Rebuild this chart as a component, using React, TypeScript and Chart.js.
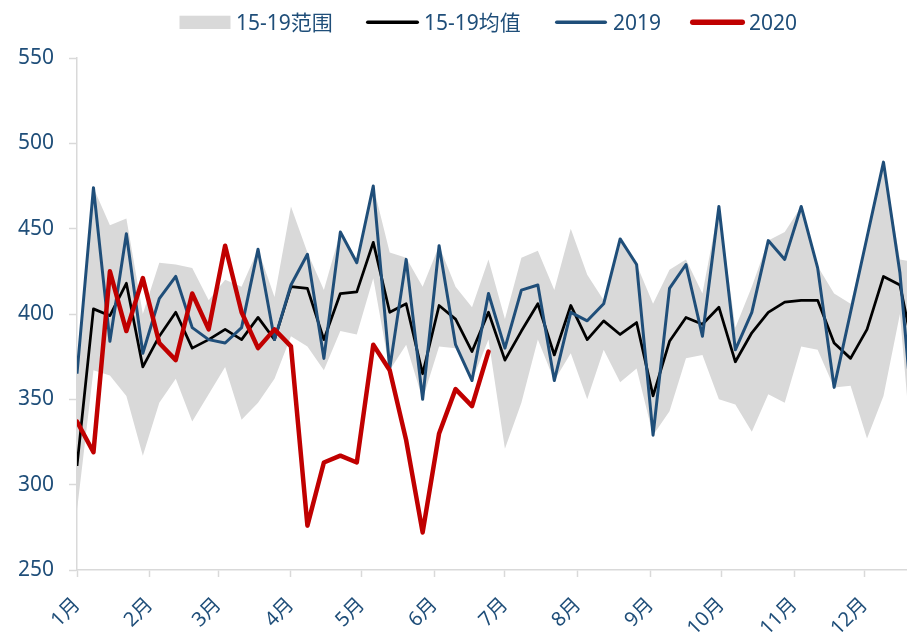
import React, { useEffect, useRef } from 'react';
import { Chart, registerables } from 'chart.js';

Chart.register(...registerables);

// ---- data (weekly, 2020 date axis in days from 1 Jan) ----
const WEEK_STEP = 7;
const monthStartDays = [0, 31, 60, 91, 121, 152, 182, 213, 244, 274, 305, 335];
const monthLabels = ['1月', '2月', '3月', '4月', '5月', '6月', '7月', '8月', '9月', '10月', '11月', '12月'];
const yTickMin = 250;
const yTickMax = 550;
const yTickStep = 50;

const range15_19High = [366, 474, 452, 456, 400, 430, 429, 427, 408, 420, 416, 438, 410, 463, 436, 414, 448, 430, 475, 436, 433, 416, 440, 416, 404, 432, 397, 433, 437, 414, 450, 423, 408, 444, 429, 406, 426, 432, 412, 463, 392, 416, 443, 448, 463, 428, 412, 406, 445, 489, 432, 430];
const range15_19Low = [285, 367, 364, 352, 317, 348, 362, 337, 353, 369, 338, 348, 362, 387, 381, 367, 390, 388, 421, 367, 382, 350, 381, 380, 361, 385, 321, 348, 385, 361, 377, 350, 379, 360, 368, 329, 343, 374, 376, 350, 347, 331, 353, 348, 381, 379, 357, 358, 327, 352, 400, 288];
const mean15_19 = [311, 403, 399, 418, 369, 387, 401, 380, 385, 391, 385, 398, 385, 416, 415, 385, 412, 413, 442, 401, 406, 365, 405, 397, 378, 401, 373, 390, 406, 376, 405, 385, 396, 388, 395, 352, 384, 398, 394, 404, 372, 389, 401, 407, 408, 408, 383, 374, 391, 422, 417, 370];
const y2019 = [365, 474, 384, 447, 377, 409, 422, 392, 385, 383, 392, 438, 385, 417, 435, 374, 448, 430, 475, 368, 432, 350, 440, 382, 361, 412, 380, 414, 417, 361, 401, 396, 406, 444, 429, 329, 415, 429, 387, 463, 379, 401, 443, 432, 463, 427, 357, 401, 445, 489, 424, 315];
const y2020 = [337, 319, 425, 390, 421, 383, 373, 412, 391, 440, 401, 380, 391, 381, 276, 313, 317, 313, 382, 367, 326, 272, 330, 356, 346, 378];

const BLUE = '#1F4E79';
const RED = '#C00000';
const GRAY = '#D9D9D9';
const TEXT = '#1F4E79';
const FONT = "'Noto Sans', 'Noto Sans CJK SC', sans-serif";

const toPoints = (arr: number[]) => arr.map((v, i) => ({ x: i * WEEK_STEP, y: v }));

// legend layout (marker start x, marker width, text start x)
const legendItems = [
  { label: '15-19范围', kind: 'box', color: GRAY, lw: 0, x: 179.5, w: 51, tx: 236 },
  { label: '15-19均值', kind: 'line', color: '#000000', lw: 3.5, x: 366, w: 53, tx: 424 },
  { label: '2019', kind: 'line', color: BLUE, lw: 3.5, x: 555, w: 52, tx: 613 },
  { label: '2020', kind: 'line', color: RED, lw: 5.5, x: 690, w: 55, tx: 749 },
];

const excelLegend = {
  id: 'excelLegend',
  afterDraw(chart: any) {
    const ctx = chart.ctx as CanvasRenderingContext2D;
    ctx.save();
    ctx.font = `21px ${FONT}`;
    ctx.textBaseline = 'alphabetic';
    ctx.textAlign = 'left';
    const midY = 22.3;
    for (const it of legendItems) {
      if (it.kind === 'box') {
        ctx.fillStyle = it.color;
        ctx.fillRect(it.x, 15.7, it.w, 13.3);
      } else {
        ctx.strokeStyle = it.color;
        ctx.lineWidth = it.lw;
        ctx.lineCap = 'round';
        ctx.beginPath();
        ctx.moveTo(it.x + it.lw / 2, midY);
        ctx.lineTo(it.x + it.w - it.lw / 2, midY);
        ctx.stroke();
      }
      ctx.fillStyle = TEXT;
      ctx.fillText(it.label, it.tx, 29.5);
    }
    ctx.restore();
  },
};

export default function App() {
  const ref = useRef<HTMLCanvasElement>(null);
  useEffect(() => {
    const chart = new Chart(ref.current as HTMLCanvasElement, {
      type: 'line',
      data: {
        datasets: [
          { label: '15-19低', data: toPoints(range15_19Low), borderColor: 'rgba(0,0,0,0)', backgroundColor: 'rgba(0,0,0,0)', pointRadius: 0, fill: false, order: 5 },
          { label: '15-19范围', data: toPoints(range15_19High), borderColor: 'rgba(0,0,0,0)', backgroundColor: GRAY, pointRadius: 0, fill: '-1', order: 4 },
          { label: '15-19均值', data: toPoints(mean15_19), borderColor: '#000000', borderWidth: 2.75, pointRadius: 0, borderJoinStyle: 'round', fill: false, order: 3 },
          { label: '2019', data: toPoints(y2019), borderColor: BLUE, borderWidth: 3, pointRadius: 0, borderJoinStyle: 'round', fill: false, order: 2 },
          { label: '2020', data: toPoints(y2020), borderColor: RED, borderWidth: 4.5, pointRadius: 0, borderJoinStyle: 'round', borderCapStyle: 'round', fill: false, order: 1 },
        ] as any,
      },
      options: {
        responsive: false,
        animation: false,
        layout: { padding: { top: 58, left: 0, right: 0, bottom: 0 } },
        plugins: { legend: { display: false }, tooltip: { enabled: false } },
        elements: { line: { tension: 0 }, point: { radius: 0 } },
        scales: {
          x: {
            type: 'linear',
            min: 0,
            max: 353,
            afterBuildTicks: (axis: any) => {
              axis.ticks = monthStartDays.map((v) => ({ value: v }));
            },
            afterFit: (s: any) => {
              s.height = 65;
            },
            ticks: {
              autoSkip: false,
              minRotation: 45,
              maxRotation: 45,
              padding: 16,
              color: TEXT,
              font: { size: 20, family: FONT },
              callback: (v: any) => {
                const i = monthStartDays.indexOf(Number(v));
                return i >= 0 ? monthLabels[i] : '';
              },
            },
            grid: { drawOnChartArea: false, drawTicks: true, tickLength: 7, color: GRAY, tickWidth: 1.5 },
            border: { display: true, color: GRAY, width: 1.5 },
          },
          y: {
            min: yTickMin,
            max: yTickMax,
            afterFit: (s: any) => {
              s.width = 77;
            },
            ticks: { stepSize: yTickStep, padding: 15, color: TEXT, font: { size: 21, family: FONT } },
            grid: { drawOnChartArea: false, drawTicks: true, tickLength: 8, color: GRAY, tickWidth: 1.5 },
            border: { display: true, color: GRAY, width: 1.5 },
          },
        },
      } as any,
      plugins: [excelLegend],
    });
    return () => chart.destroy();
  }, []);
  return (
    <div style={{ position: 'fixed', left: 0, top: 0, width: 907, height: 635, background: '#fff' }}>
      <canvas ref={ref} width={907} height={635} style={{ display: 'block' }} />
    </div>
  );
}
